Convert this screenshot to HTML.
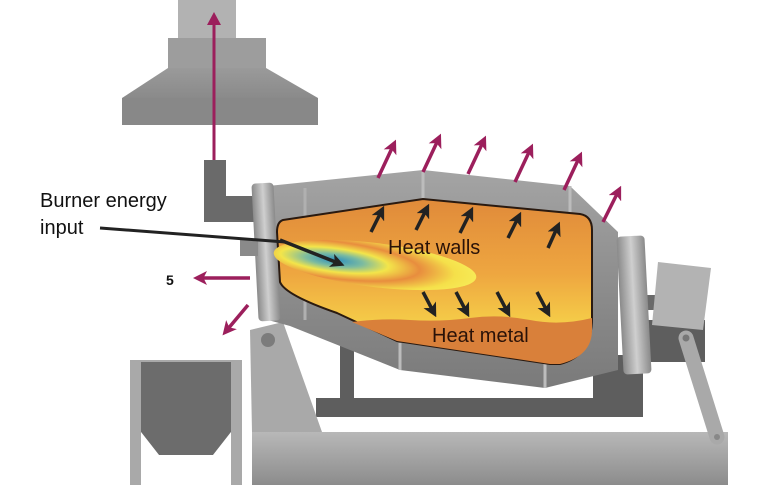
<!DOCTYPE html>
<html><head><meta charset="utf-8"><style>
html,body{margin:0;padding:0;background:#fff;width:780px;height:485px;overflow:hidden}
svg{display:block}
text{font-family:"Liberation Sans","DejaVu Sans",sans-serif}
</style></head><body>
<svg width="780" height="485" viewBox="0 0 780 485" xmlns="http://www.w3.org/2000/svg">
<defs>
<linearGradient id="hood" x1="0" y1="0" x2="0" y2="1"><stop offset="0" stop-color="#9a9a9a"/><stop offset="1" stop-color="#7c7c7c"/></linearGradient>
<linearGradient id="base" x1="0" y1="0" x2="0" y2="1"><stop offset="0" stop-color="#b8b8b8"/><stop offset="1" stop-color="#8c8c8c"/></linearGradient>
<linearGradient id="drum" x1="0" y1="0" x2="0" y2="1"><stop offset="0" stop-color="#a4a4a4"/><stop offset="0.5" stop-color="#8e8e8e"/><stop offset="1" stop-color="#7a7a7a"/></linearGradient>
<linearGradient id="fl" x1="0" y1="0" x2="1" y2="0"><stop offset="0" stop-color="#8a8a8a"/><stop offset="0.5" stop-color="#cfcfcf"/><stop offset="1" stop-color="#8a8a8a"/></linearGradient>
<linearGradient id="inside" x1="0" y1="0" x2="0" y2="1"><stop offset="0" stop-color="#e08a3a"/><stop offset="0.45" stop-color="#eea640"/><stop offset="0.75" stop-color="#f5cc48"/><stop offset="1" stop-color="#f1c445"/></linearGradient>
<radialGradient id="flame" cx="0.3" cy="0.5" r="0.7"><stop offset="0" stop-color="#2d8fc0"/><stop offset="0.2" stop-color="#7cbba0"/><stop offset="0.38" stop-color="#f3e54a"/><stop offset="0.6" stop-color="#e88d3e"/><stop offset="0.85" stop-color="#f5e04a"/><stop offset="1" stop-color="#f7ea55"/></radialGradient>
<marker id="mh" markerWidth="4" markerHeight="4" refX="2" refY="2" orient="auto" markerUnits="strokeWidth"><path d="M0,0 L4,2 L0,4 L1,2 Z" fill="#9c1f5c"/></marker>
<marker id="bh" markerWidth="4" markerHeight="4" refX="2" refY="2" orient="auto" markerUnits="strokeWidth"><path d="M0,0 L4,2 L0,4 L1,2 Z" fill="#222"/></marker>
</defs>

<rect x="178" y="0" width="58" height="40" fill="#b2b2b2"/>
<rect x="168" y="38" width="98" height="30" fill="#9d9d9d"/>
<polygon points="168,68 266,68 318,98 318,125 122,125 122,98" fill="url(#hood)"/>
<polygon points="122,98 318,98 318,125 122,125" fill="#888"/>

<rect x="130" y="360" width="112" height="125" fill="#a9a9a9"/>
<polygon points="141,362 231,362 231,432 213,455 159,455 141,432" fill="#6c6c6c"/>
<rect x="141" y="455" width="90" height="30" fill="#fff"/>
<polygon points="141,432 159,455 141,455" fill="#fff"/>
<polygon points="231,432 213,455 231,455" fill="#fff"/>

<rect x="635" y="320" width="70" height="42" fill="#5e5e5e"/>
<rect x="593" y="355" width="50" height="45" fill="#5e5e5e"/>
<rect x="340" y="345" width="14" height="55" fill="#5e5e5e"/>
<rect x="316" y="398" width="327" height="19" fill="#5e5e5e"/>
<rect x="640" y="295" width="20" height="15" fill="#6a6a6a"/>
<polygon points="658,262 711,268 703,330 652,325" fill="#b3b3b3"/>
<polygon points="250,330 283,322 322,432 252,432" fill="#a9a9a9"/>
<circle cx="268" cy="340" r="7" fill="#7c7c7c"/>
<rect x="252" y="432" width="476" height="53" fill="url(#base)"/>
<line x1="686" y1="338" x2="717" y2="437" stroke="#a9a9a9" stroke-width="15" stroke-linecap="round"/>
<circle cx="686" cy="338" r="3.5" fill="#777"/><circle cx="717" cy="437" r="3" fill="#888"/>

<rect x="204" y="160" width="22" height="60" fill="#6a6a6a"/>
<rect x="204" y="196" width="72" height="26" fill="#6a6a6a"/>
<line x1="214" y1="160" x2="214" y2="22" stroke="#9c1f5c" stroke-width="3"/>
<polygon points="214,12 207,25 221,25" fill="#9c1f5c"/>

<polygon points="268,186 423,170 570,186 618,232 618,370 545,388 400,370 290,326 268,320" fill="url(#drum)"/>
<rect x="620" y="236" width="28" height="138" rx="4" fill="url(#fl)" transform="rotate(-3 634 305)"/>
<rect x="255" y="183" width="22" height="138" rx="4" fill="url(#fl)" transform="rotate(-3 266 252)"/>
<rect x="240" y="240" width="18" height="16" fill="#8a8a8a"/>
<line x1="423" y1="170" x2="423" y2="198" stroke="#bcbcbc" stroke-width="3"/>
<line x1="570" y1="186" x2="570" y2="213" stroke="#bcbcbc" stroke-width="3"/>
<line x1="400" y1="343" x2="400" y2="370" stroke="#bcbcbc" stroke-width="3"/>
<line x1="545" y1="363" x2="545" y2="388" stroke="#bcbcbc" stroke-width="3"/>
<line x1="305" y1="188" x2="305" y2="320" stroke="#b0b0b0" stroke-width="3"/>

<path d="M283,220 L423,199 L580,214 Q592,216 592,230 L592,318 Q592,356 560,364 L550,364 L397,341 L337,313 Q285,295 280,282 L277,232 Q277,222 283,220 Z" fill="url(#inside)" stroke="#2a1a10" stroke-width="2"/>
<path d="M352,322 Q380,318 410,320 T470,318 T530,320 T592,318 L592,330 Q592,356 560,364 L550,364 L397,341 Z" fill="#d9803a"/>
<ellipse cx="375" cy="265" rx="102" ry="22" transform="rotate(7 375 265)" fill="url(#flame)"/>

<g stroke="#222" stroke-width="3.5" marker-end="url(#bh)">
<line x1="371" y1="232" x2="381" y2="212"/>
<line x1="416" y1="230" x2="426" y2="210"/>
<line x1="460" y1="233" x2="470" y2="213"/>
<line x1="508" y1="238" x2="518" y2="218"/>
<line x1="548" y1="248" x2="557" y2="228"/>
<line x1="423" y1="292" x2="433" y2="311"/>
<line x1="456" y1="292" x2="466" y2="311"/>
<line x1="497" y1="292" x2="507" y2="311"/>
<line x1="537" y1="292" x2="547" y2="311"/>
<line x1="280" y1="240" x2="338" y2="263"/>
</g>
<line x1="100" y1="228" x2="285" y2="242" stroke="#222" stroke-width="3"/>

<g stroke="#9c1f5c" stroke-width="3.5" marker-end="url(#mh)">
<line x1="378" y1="178" x2="393" y2="146"/>
<line x1="423" y1="172" x2="438" y2="140"/>
<line x1="468" y1="174" x2="483" y2="142"/>
<line x1="515" y1="182" x2="530" y2="150"/>
<line x1="564" y1="190" x2="579" y2="158"/>
<line x1="603" y1="222" x2="618" y2="192"/>
<line x1="250" y1="278" x2="200" y2="278"/>
<line x1="248" y1="305" x2="227" y2="330"/>
</g>

<text x="40" y="207" font-size="20" fill="#111">Burner energy</text>
<text x="40" y="234" font-size="20" fill="#111">input</text>
<text x="166" y="285" font-size="14" font-weight="bold" fill="#111">5</text>
<text x="388" y="254" font-size="20" fill="#2a1208">Heat walls</text>
<text x="432" y="342" font-size="20" fill="#2a1208">Heat metal</text>
</svg>
</body></html>
